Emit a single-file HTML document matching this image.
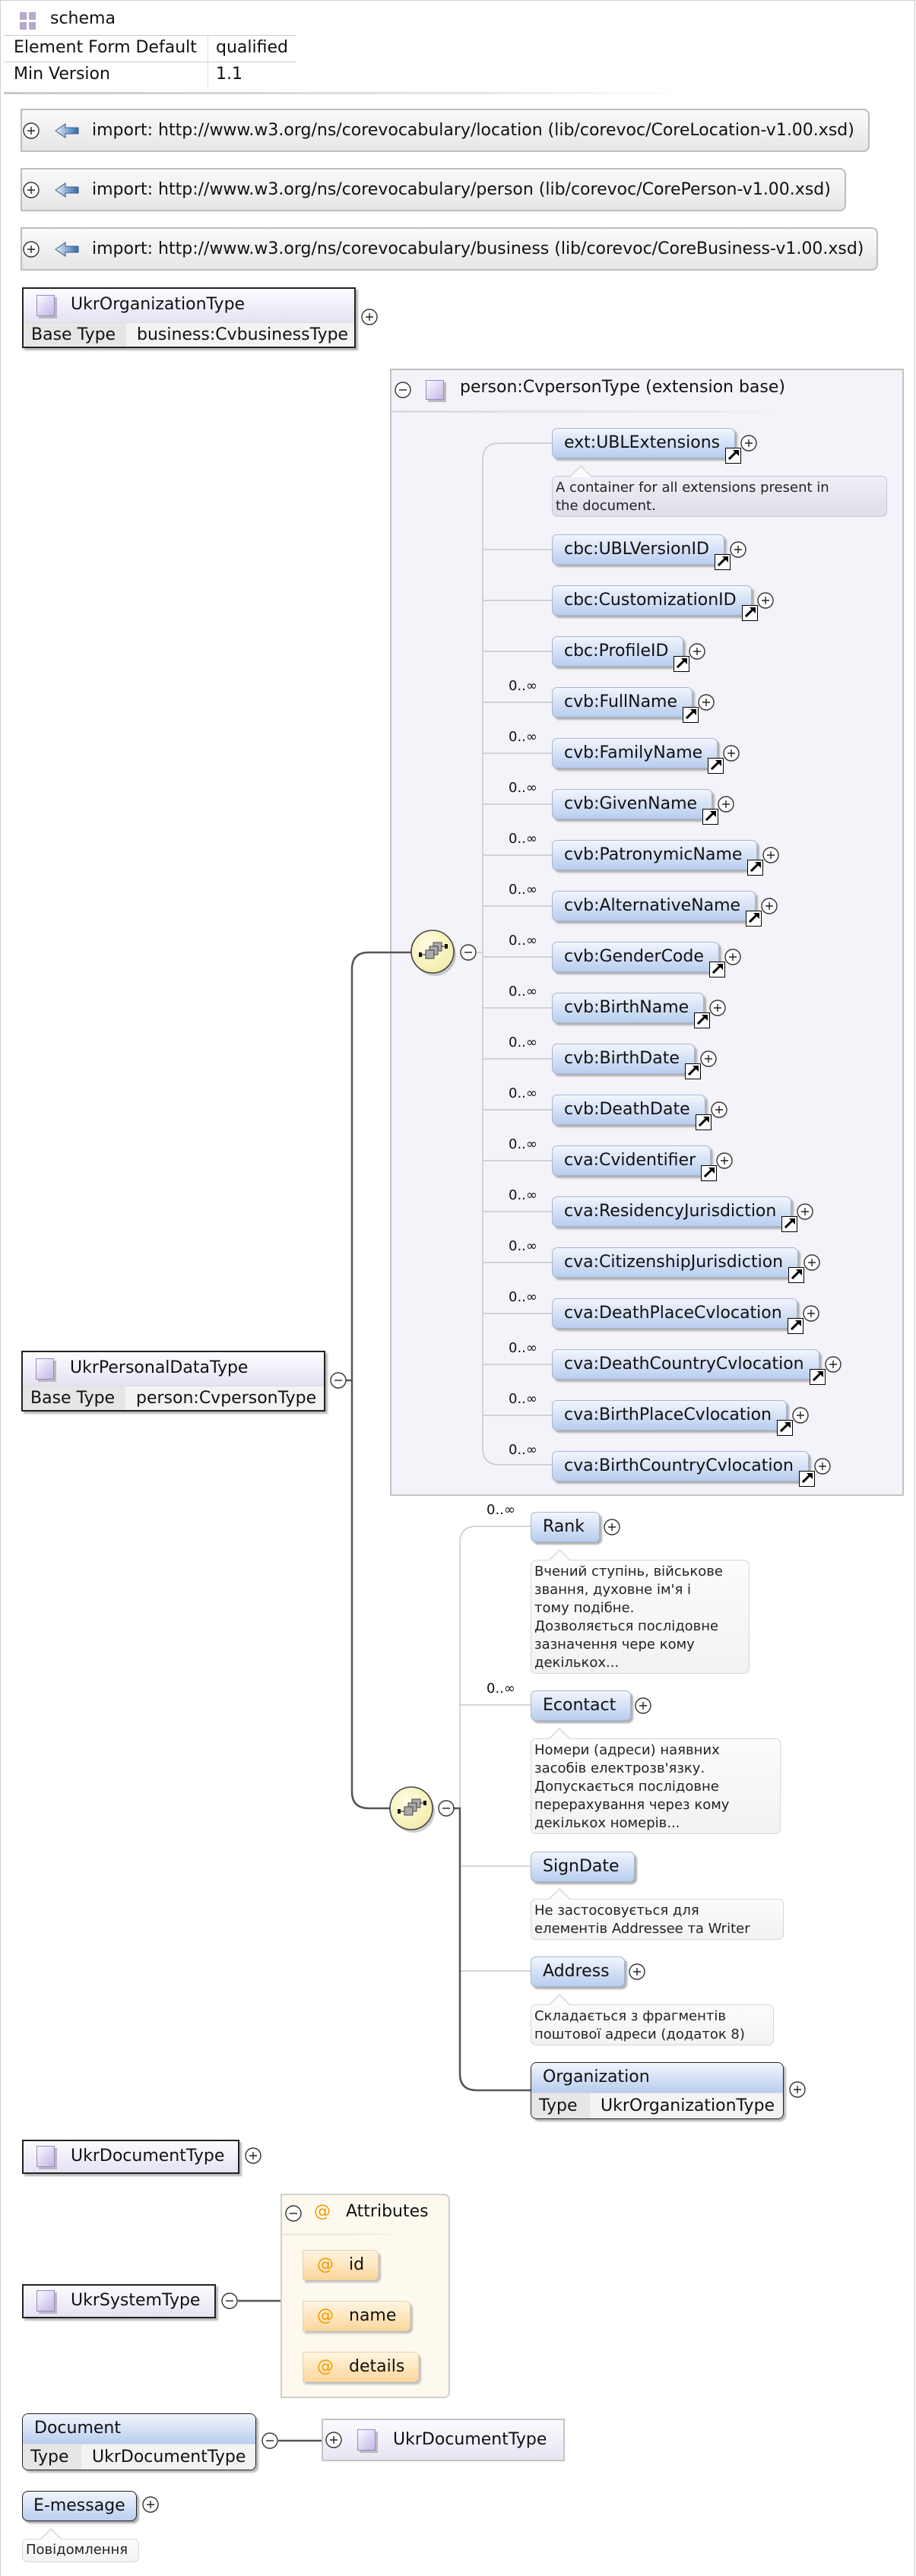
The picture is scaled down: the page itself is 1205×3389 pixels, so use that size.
<!DOCTYPE html>
<html><head><meta charset="utf-8">
<style>
*{box-sizing:border-box;margin:0;padding:0}
body{width:1205px;height:3389px;position:relative;background:#fff;font-family:"DejaVu Sans","Liberation Sans",sans-serif;color:#111;overflow:hidden}
.a{position:absolute;white-space:nowrap}
.pg{position:absolute;left:0;top:0;width:1204px;height:3389px;border:1px solid #cfcfcf;border-bottom:none}
.imp{position:absolute;left:27px;height:57px;border:2px solid #bdbdbd;border-radius:0 8px 8px 0;background:linear-gradient(#fafafa,#e6e6e6);font-size:22px;line-height:53px;padding-left:92px;white-space:nowrap}
.el{position:absolute;height:40px;line-height:38px;padding:0 19px 0 15px;border:1px solid #a5b6d2;border-radius:7px;background:linear-gradient(#f2f6fd,#b8cdef);box-shadow:3px 3px 2px #b0b0b0;font-size:22px;white-space:nowrap}
.lk{position:absolute;right:-9px;bottom:-8px;width:21px;height:21px;border:1.5px solid #000;background:#fff}
.lk:after{content:"";position:absolute;left:2px;top:8px;width:13px;height:3px;background:#000;transform:rotate(-45deg)}
.lk:before{content:"";position:absolute;right:2px;top:2px;width:0;height:0;border-top:8px solid #000;border-left:8px solid transparent}
.pl{position:absolute;top:50%;margin-top:-11px;width:22px;height:22px}
.mu{position:absolute;font-size:18px;white-space:nowrap}
.tt{position:absolute;font-size:18px;line-height:24px;padding:3px 4px;border:1px solid #d6d6d6;border-radius:7px;background:linear-gradient(#fcfcfc,#f2f2f2);color:#222;white-space:nowrap}
.tt:before{content:"";position:absolute;left:22px;top:-15px;width:0;height:0;border-left:15px solid transparent;border-right:15px solid transparent;border-bottom:15px solid #d6d6d6}
.tt:after{content:"";position:absolute;left:23px;top:-13px;width:0;height:0;border-left:14px solid transparent;border-right:14px solid transparent;border-bottom:14px solid #fcfcfc}
.ty{position:absolute;border:2px solid #222;background:#fff;box-shadow:3px 3px 2px #b8b8b8;font-size:22px;white-space:nowrap}
.th{position:relative;background:linear-gradient(#fdfcff,#e6e2f3);padding-left:62px}
.ic{position:absolute;width:24px;height:28px;border:1.5px solid #9a88c8;background:linear-gradient(135deg,#fbfaff,#c4b6e6);box-shadow:3px 3px 0 #bbb}
.row{display:flex;border-top:1px solid #ddd}
.row .k{background:#e6e6e6;padding-left:10px}
.row .v{background:#f3f3f3;padding-left:14px;flex:1}
.at{position:absolute;left:398px;height:40px;line-height:38px;border:1px solid #e8d2a8;border-radius:0 7px 7px 0;background:linear-gradient(#fff5e2,#fcd79c);box-shadow:3px 3px 2px #c0c0c0;font-size:22px;padding-left:18px;padding-right:18px;white-space:nowrap}
.at b,.ah b{color:#f09a00;font-weight:normal;margin-right:20px}
</style></head><body>
<div class="pg"></div>

<svg class="a" style="left:26px;top:16px" width="22" height="23"><rect x="0" y="0" width="9" height="10" fill="#b7a9cc"/><rect x="12" y="0" width="9" height="10" fill="#b7a9cc"/><rect x="0" y="13" width="9" height="10" fill="#b7a9cc"/><rect x="12" y="13" width="9" height="10" fill="#b7a9cc"/></svg>
<div class="a" style="left:66px;top:12px;font-size:22px">schema</div>
<div class="a" style="left:5px;top:46px;width:385px;height:1px;background:#ccc"></div>
<div class="a" style="left:5px;top:81px;width:385px;height:1px;background:#ccc"></div>
<div class="a" style="left:273px;top:46px;width:1px;height:70px;background:#ddd"></div>
<div class="a" style="left:18px;top:50px;font-size:22px">Element Form Default</div>
<div class="a" style="left:284px;top:50px;font-size:22px">qualified</div>
<div class="a" style="left:18px;top:85px;font-size:22px">Min Version</div>
<div class="a" style="left:284px;top:85px;font-size:22px">1.1</div>
<div class="a" style="left:5px;top:121px;width:900px;height:3px;background:linear-gradient(90deg,#c8c8c8,#e6e6e6 70%,#fff)"></div>

<div class="imp" style="top:143px;width:1117px">import: http://www.w3.org/ns/corevocabulary/location (lib/corevoc/CoreLocation-v1.00.xsd)</div>
<div class="imp" style="top:221px;width:1086px">import: http://www.w3.org/ns/corevocabulary/person (lib/corevoc/CorePerson-v1.00.xsd)</div>
<div class="imp" style="top:299px;width:1128px">import: http://www.w3.org/ns/corevocabulary/business (lib/corevoc/CoreBusiness-v1.00.xsd)</div>

<div class="ty" style="left:29px;top:378px;width:439px;height:80px">
 <div class="th" style="height:44px;line-height:42px"><div class="ic" style="left:17px;top:8px"></div>UkrOrganizationType</div>
 <div class="row" style="height:32px;line-height:32px"><div class="k" style="width:135px">Base Type</div><div class="v">business:CvbusinessType</div></div>
</div>

<div class="a" style="left:513px;top:485px;width:676px;height:1483px;border:2px solid #c2c2c2;background:#f4f3f9"></div>
<div class="ic" style="left:560px;top:500px;width:24px;height:26px"></div>
<div class="a" style="left:605px;top:497px;font-size:22px">person:CvpersonType (extension base)</div>
<div class="a" style="left:515px;top:540px;width:510px;height:3px;background:linear-gradient(90deg,#dcdce0,#e8e8ee 80%,#f4f3f9)"></div>

<div class="ty" style="left:28px;top:1777px;width:400px;height:80px">
 <div class="th" style="height:44px;line-height:42px"><div class="ic" style="left:17px;top:8px"></div>UkrPersonalDataType</div>
 <div class="row" style="height:32px;line-height:32px"><div class="k" style="width:135px">Base Type</div><div class="v">person:CvpersonType</div></div>
</div>

<svg class="a" style="left:0;top:0" width="1205" height="3389">
 <defs>
  <radialGradient id="cg" cx="40%" cy="35%" r="70%"><stop offset="0" stop-color="#fffde6"/><stop offset="1" stop-color="#f3eba8"/></radialGradient>
  <linearGradient id="ag" x1="0" x2="1"><stop offset="0" stop-color="#e8f0fa"/><stop offset="1" stop-color="#2f6aa8"/></linearGradient>
  <g id="pm"><circle r="10" fill="#fff" stroke="#333" stroke-width="1.4"/><path d="M-5,0H5" stroke="#222" stroke-width="1.4"/></g>
  <g id="pp"><circle r="10" fill="#fff" stroke="#333" stroke-width="1.4"/><path d="M-5,0H5M0,-5V5" stroke="#222" stroke-width="1.4"/></g>
  <g id="arr"><path d="M0,0 L13,-9 V-4 H30 V4 H13 V9 Z" fill="url(#ag)" stroke="#3a5f8a" stroke-width="1"/></g>
  <g id="comp">
   <circle cx="3" cy="4" r="28" fill="#aaa" opacity=".6"/>
   <circle r="28" fill="url(#cg)" stroke="#444" stroke-width="1.6"/>
   <rect x="-18" y="1" width="4" height="6" fill="#111"/><path d="M-14,4H-8" stroke="#111"/>
   <rect x="1" y="-12" width="11" height="11" fill="#aaa" stroke="#444"/>
   <rect x="-4" y="-7" width="11" height="11" fill="#aaa" stroke="#444"/>
   <rect x="-9" y="-2" width="11" height="11" fill="#aaa" stroke="#444"/>
   <path d="M12,-7H17" stroke="#111"/><rect x="16" y="-10" width="4" height="6" fill="#111"/>
  </g>
 </defs>
 <use href="#pp" x="41" y="172"/><use href="#arr" x="73" y="172"/>
 <use href="#pp" x="41" y="250"/><use href="#arr" x="73" y="250"/>
 <use href="#pp" x="41" y="328"/><use href="#arr" x="73" y="328"/>
 <use href="#pp" x="486" y="417"/>
 <use href="#pm" x="530" y="513"/>
 <g stroke="#c8c8c8" stroke-width="1.5" fill="none">
  <path d="M726,583 H657 Q635,583 635,605 V1905 Q635,1927 657,1927 H726"/>
  <path d="M635,723H726M635,790H726M635,857H726M635,924H726M635,991H726M635,1058H726M635,1125H726M635,1192H726M635,1259H726M635,1326H726M635,1393H726M635,1460H726M635,1527H726M635,1594H726M635,1661H726M635,1728H726M635,1795H726M635,1862H726"/>
  <path d="M626,1253H635"/>
  <path d="M698,2008 H627 Q605,2008 605,2030 V2379"/>
  <path d="M605,2243H698M605,2455H698M605,2593H698"/>
 </g>
 <g stroke="#555" stroke-width="2.5" fill="none">
  <path d="M541,1253 H485 Q463,1253 463,1275 V2357 Q463,2379 485,2379 H513"/>
  <path d="M455,1816H463"/>
  <path d="M597,2379 H605 V2728 Q605,2750 627,2750 H698"/>
  <path d="M313,3027H369"/>
  <path d="M366,3211H423"/>
 </g>
 <use href="#comp" x="569" y="1252"/>
 <use href="#pm" x="616" y="1253"/>
 <use href="#pm" x="445" y="1816"/>
 <use href="#comp" x="541" y="2379"/>
 <use href="#pm" x="587" y="2379"/>
 <use href="#pp" x="1049" y="2749"/>
 <use href="#pp" x="333" y="2836"/>
 <use href="#pm" x="302" y="3027"/>
 <use href="#pm" x="355" y="3211"/>
 <use href="#pp" x="198" y="3295"/>
</svg>

<div class="el" style="left:726px;top:563px">ext:UBLExtensions<span class="lk"></span><svg class="pl" style="right:-30px"><use href="#pp" x="11" y="11"/></svg></div>
<div class="tt" style="left:726px;top:626px;width:441px;height:54px;background:linear-gradient(#f0eef6,#e1dde9);border-color:#cac6d6">A container for all extensions present in<br>the document.</div>

<div class="el" style="left:726px;top:703px">cbc:UBLVersionID<span class="lk"></span><svg class="pl" style="right:-30px"><use href="#pp" x="11" y="11"/></svg></div>
<div class="el" style="left:726px;top:770px">cbc:CustomizationID<span class="lk"></span><svg class="pl" style="right:-30px"><use href="#pp" x="11" y="11"/></svg></div>
<div class="el" style="left:726px;top:837px">cbc:ProfileID<span class="lk"></span><svg class="pl" style="right:-30px"><use href="#pp" x="11" y="11"/></svg></div>

<div class="mu" style="left:669px;top:892px">0..∞</div><div class="el" style="left:726px;top:904px">cvb:FullName<span class="lk"></span><svg class="pl" style="right:-30px"><use href="#pp" x="11" y="11"/></svg></div>
<div class="mu" style="left:669px;top:959px">0..∞</div><div class="el" style="left:726px;top:971px">cvb:FamilyName<span class="lk"></span><svg class="pl" style="right:-30px"><use href="#pp" x="11" y="11"/></svg></div>
<div class="mu" style="left:669px;top:1026px">0..∞</div><div class="el" style="left:726px;top:1038px">cvb:GivenName<span class="lk"></span><svg class="pl" style="right:-30px"><use href="#pp" x="11" y="11"/></svg></div>
<div class="mu" style="left:669px;top:1093px">0..∞</div><div class="el" style="left:726px;top:1105px">cvb:PatronymicName<span class="lk"></span><svg class="pl" style="right:-30px"><use href="#pp" x="11" y="11"/></svg></div>
<div class="mu" style="left:669px;top:1160px">0..∞</div><div class="el" style="left:726px;top:1172px">cvb:AlternativeName<span class="lk"></span><svg class="pl" style="right:-30px"><use href="#pp" x="11" y="11"/></svg></div>
<div class="mu" style="left:669px;top:1227px">0..∞</div><div class="el" style="left:726px;top:1239px">cvb:GenderCode<span class="lk"></span><svg class="pl" style="right:-30px"><use href="#pp" x="11" y="11"/></svg></div>
<div class="mu" style="left:669px;top:1294px">0..∞</div><div class="el" style="left:726px;top:1306px">cvb:BirthName<span class="lk"></span><svg class="pl" style="right:-30px"><use href="#pp" x="11" y="11"/></svg></div>
<div class="mu" style="left:669px;top:1361px">0..∞</div><div class="el" style="left:726px;top:1373px">cvb:BirthDate<span class="lk"></span><svg class="pl" style="right:-30px"><use href="#pp" x="11" y="11"/></svg></div>
<div class="mu" style="left:669px;top:1428px">0..∞</div><div class="el" style="left:726px;top:1440px">cvb:DeathDate<span class="lk"></span><svg class="pl" style="right:-30px"><use href="#pp" x="11" y="11"/></svg></div>
<div class="mu" style="left:669px;top:1495px">0..∞</div><div class="el" style="left:726px;top:1507px">cva:Cvidentifier<span class="lk"></span><svg class="pl" style="right:-30px"><use href="#pp" x="11" y="11"/></svg></div>
<div class="mu" style="left:669px;top:1562px">0..∞</div><div class="el" style="left:726px;top:1574px">cva:ResidencyJurisdiction<span class="lk"></span><svg class="pl" style="right:-30px"><use href="#pp" x="11" y="11"/></svg></div>
<div class="mu" style="left:669px;top:1629px">0..∞</div><div class="el" style="left:726px;top:1641px">cva:CitizenshipJurisdiction<span class="lk"></span><svg class="pl" style="right:-30px"><use href="#pp" x="11" y="11"/></svg></div>
<div class="mu" style="left:669px;top:1696px">0..∞</div><div class="el" style="left:726px;top:1708px">cva:DeathPlaceCvlocation<span class="lk"></span><svg class="pl" style="right:-30px"><use href="#pp" x="11" y="11"/></svg></div>
<div class="mu" style="left:669px;top:1763px">0..∞</div><div class="el" style="left:726px;top:1775px">cva:DeathCountryCvlocation<span class="lk"></span><svg class="pl" style="right:-30px"><use href="#pp" x="11" y="11"/></svg></div>
<div class="mu" style="left:669px;top:1830px">0..∞</div><div class="el" style="left:726px;top:1842px">cva:BirthPlaceCvlocation<span class="lk"></span><svg class="pl" style="right:-30px"><use href="#pp" x="11" y="11"/></svg></div>
<div class="mu" style="left:669px;top:1897px">0..∞</div><div class="el" style="left:726px;top:1909px">cva:BirthCountryCvlocation<span class="lk"></span><svg class="pl" style="right:-30px"><use href="#pp" x="11" y="11"/></svg></div>

<div class="mu" style="left:640px;top:1976px">0..∞</div>
<div class="el" style="left:698px;top:1989px">Rank<svg class="pl" style="right:-28px"><use href="#pp" x="11" y="11"/></svg></div>
<div class="tt" style="left:698px;top:2052px;width:288px;height:150px">Вчений ступінь, військове<br>звання, духовне ім'я і<br>тому подібне.<br>Дозволяється послідовне<br>зазначення чере кому<br>декількох...</div>
<div class="mu" style="left:640px;top:2211px">0..∞</div>
<div class="el" style="left:698px;top:2224px">Econtact<svg class="pl" style="right:-28px"><use href="#pp" x="11" y="11"/></svg></div>
<div class="tt" style="left:698px;top:2287px;width:329px;height:126px">Номери (адреси) наявних<br>засобів електрозв'язку.<br>Допускається послідовне<br>перерахування через кому<br>декількох номерів...</div>
<div class="el" style="left:698px;top:2436px">SignDate</div>
<div class="tt" style="left:698px;top:2498px;width:333px;height:54px">Не застосовується для<br>елементів Addressee та Writer</div>
<div class="el" style="left:698px;top:2574px">Address<svg class="pl" style="right:-28px"><use href="#pp" x="11" y="11"/></svg></div>
<div class="tt" style="left:698px;top:2637px;width:320px;height:54px">Складається з фрагментів<br>поштової адреси (додаток 8)</div>
<div class="ty" style="left:698px;top:2713px;width:333px;height:75px;border-radius:8px;overflow:hidden;border-width:1.5px">
 <div style="height:39px;line-height:38px;padding-left:15px;background:linear-gradient(#f2f6fd,#b8cdef)">Organization</div>
 <div class="row" style="height:34px;line-height:33px"><div class="k" style="width:77px;padding-left:10px">Type</div><div class="v">UkrOrganizationType</div></div>
</div>

<div class="ty" style="left:29px;top:2815px;width:286px;height:45px"><div class="th" style="height:41px;line-height:40px"><div class="ic" style="left:17px;top:6px"></div>UkrDocumentType</div></div>

<div class="ty" style="left:29px;top:3005px;width:255px;height:45px"><div class="th" style="height:41px;line-height:40px"><div class="ic" style="left:17px;top:6px"></div>UkrSystemType</div></div>
<div class="a" style="left:369px;top:2886px;width:223px;height:269px;border:2px solid #cfcfcf;border-radius:0 8px 8px 0;background:#fef9ef"></div>
<svg class="a" style="left:375px;top:2901px" width="22" height="22"><use href="#pm" x="11" y="11"/></svg>
<div class="a ah" style="left:413px;top:2897px;font-size:22px"><b>@</b>Attributes</div>
<div class="a" style="left:372px;top:2938px;width:165px;height:3px;background:linear-gradient(90deg,#eee8dc,#f4efe4 70%,#fef9ef)"></div>
<div class="at" style="top:2960px"><b>@</b>id</div>
<div class="at" style="top:3027px"><b>@</b>name</div>
<div class="at" style="top:3094px"><b>@</b>details</div>

<div class="ty" style="left:29px;top:3175px;width:308px;height:75px;border-radius:8px;overflow:hidden;border-width:1.5px">
 <div style="height:39px;line-height:38px;padding-left:15px;background:linear-gradient(#f2f6fd,#b8cdef)">Document</div>
 <div class="row" style="height:34px;line-height:33px"><div class="k" style="width:77px;padding-left:10px">Type</div><div class="v">UkrDocumentType</div></div>
</div>
<div class="a" style="left:423px;top:3182px;width:320px;height:56px;border:2px solid #c4c4c4;background:linear-gradient(#fbfaff,#e8e5f3);font-size:22px;line-height:52px;padding-left:92px">UkrDocumentType</div>
<svg class="a" style="left:428px;top:3199px" width="22" height="22"><use href="#pp" x="11" y="11"/></svg>
<div class="ic" style="left:470px;top:3196px"></div>

<div class="el" style="left:29px;top:3277px;border:1.5px solid #222;border-radius:8px;padding-left:14px;padding-right:14px">E-message</div>
<div class="tt" style="left:29px;top:3340px;width:154px;height:31px;line-height:24px;padding-top:2px">Повідомлення</div>
</body></html>
